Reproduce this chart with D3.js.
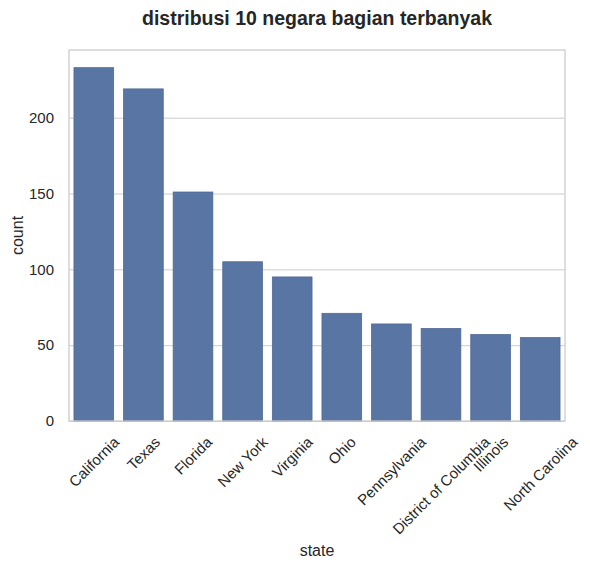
<!DOCTYPE html>
<html>
<head>
<meta charset="utf-8">
<script src="https://cdn.jsdelivr.net/npm/d3@7"></script>
<style>
  body { margin: 0; background: #fff; }
  text { font-family: "Liberation Sans", Arial, sans-serif; fill: #262626; }
</style>
</head>
<body>
<div id="chart"></div>
<script>
const states = ["California", "Texas", "Florida", "New York", "Virginia", "Ohio",
    "Pennsylvania", "District of Columbia", "Illinois", "North Carolina"];
const counts = [233, 219, 151, 105, 95, 71, 64, 61, 57, 55];
const yTicks = [0, 50, 100, 150, 200];

const width = 590, height = 568;
const margin = {top: 50, right: 25, bottom: 147, left: 69};
const innerW = width - margin.left - margin.right;
const innerH = height - margin.top - margin.bottom;

let svg = d3.select("#chart")
    .append("svg")
    .attr("width", width)
    .attr("height", height);

let g = svg.append("g")
    .attr("transform", `translate(${margin.left}, ${margin.top})`);

let x = d3.scaleBand()
    .domain(states)
    .range([0, innerW])
    .paddingInner(0.2)
    .paddingOuter(0.1);

let y = d3.scaleLinear()
    .domain([0, d3.max(counts) * 1.05])
    .range([innerH, 0]);

// gridlines
g.append("g")
    .call(d3.axisLeft(y).tickValues(yTicks).tickSize(-innerW).tickFormat(""))
    .call(a => a.select(".domain").remove())
    .selectAll("line")
    .attr("stroke", "#cccccc")
    .attr("stroke-width", 1);

g.selectAll("rect.bar")
    .data(states)
    .enter()
    .append("rect")
    .attr("class", "bar")
    .attr("x", function(d) { return x(d); })
    .attr("y", function(d, i) { return y(counts[i]); })
    .attr("width", x.bandwidth())
    .attr("height", function(d, i) { return innerH - y(counts[i]); })
    .attr("fill", "#5975a4")
    .attr("stroke", "#4f6a96")
    .attr("stroke-width", 0.8);

// frame
g.append("rect")
    .attr("width", innerW)
    .attr("height", innerH)
    .attr("fill", "none")
    .attr("stroke", "#cccccc")
    .attr("stroke-width", 1.3);

// y tick labels
let yAxis = g.append("g")
    .call(d3.axisLeft(y).tickValues(yTicks).tickSize(0).tickPadding(15));
yAxis.select(".domain").remove();
yAxis.selectAll("text")
    .style("font-size", "15px")
    .attr("fill", "#262626");

// x tick labels, rotated 45 and centered on tick like matplotlib
let xLabels = g.append("g")
    .selectAll("text")
    .data(states)
    .enter()
    .append("text")
    .style("font-size", "15px")
    .attr("text-anchor", "middle")
    .attr("dominant-baseline", "central")
    .text(function(d) { return d; });

xLabels.each(function(d) {
    let w = this.getComputedTextLength();
    let h = 15;
    let cx = x(d) + x.bandwidth() / 2;
    let cy = innerH + 13 + (w + h) / (2 * Math.SQRT2);
    d3.select(this).attr("transform", `translate(${cx}, ${cy}) rotate(-45)`);
});

svg.append("text")
    .attr("x", margin.left + innerW / 2)
    .attr("y", 556)
    .attr("text-anchor", "middle")
    .style("font-size", "16px")
    .text("state");

svg.append("text")
    .attr("transform", `translate(23, ${margin.top + innerH / 2}) rotate(-90)`)
    .attr("text-anchor", "middle")
    .style("font-size", "16px")
    .text("count");

svg.append("text")
    .attr("x", margin.left + innerW / 2)
    .attr("y", 25)
    .attr("text-anchor", "middle")
    .style("font-size", "19.5px")
    .style("font-weight", 700)
    .text("distribusi 10 negara bagian terbanyak");
</script>
</body>
</html>
